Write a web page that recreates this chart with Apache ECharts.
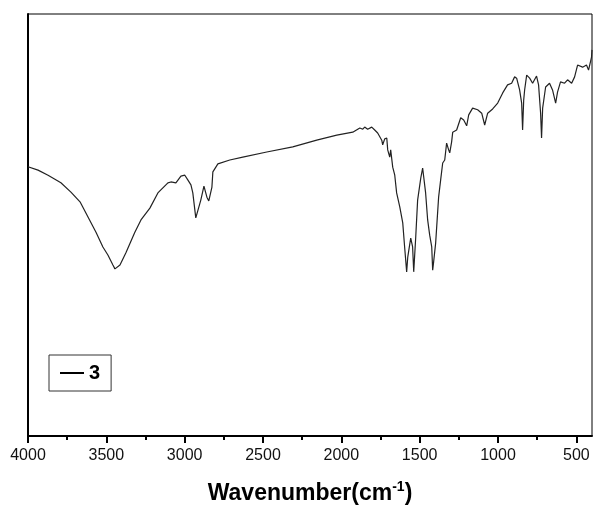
<!DOCTYPE html>
<html>
<head>
<meta charset="utf-8">
<script src="https://cdn.jsdelivr.net/npm/echarts@6/dist/echarts.min.js"></script>
<style>html,body{margin:0;padding:0;background:#fff;}#c{width:593px;height:507px;}</style>
</head>
<body>
<div id="c"></div>
<script>
const seriesName = '3';
const wavenumbers = [4000,3936,3872,3790,3726,3668,3617,3566,3522,3490,3458,3445,3413,3375,3318,3279,3222,3171,3107,3088,3056,3024,2999,2980,2960,2948,2929,2897,2877,2858,2846,2826,2820,2788,2712,2629,2476,2310,2157,2029,1927,1882,1863,1851,1832,1806,1787,1768,1742,1736,1723,1710,1704,1691,1685,1672,1659,1647,1627,1608,1596,1583,1576,1564,1557,1545,1538,1525,1513,1493,1481,1462,1449,1436,1423,1417,1411,1398,1379,1366,1353,1340,1328,1315,1308,1296,1289,1264,1238,1219,1200,1187,1162,1130,1104,1085,1066,1034,1002,970,939,913,894,881,862,849,843,836,830,817,798,779,754,741,728,722,715,696,671,652,632,620,601,575,556,530,511,492,460,435,422,403,400];
const transmittance = [63.8,63.0,61.8,60.0,57.8,55.5,51.9,48.3,44.8,42.9,40.5,39.6,40.5,43.4,48.3,51.2,54.0,57.6,60.0,60.2,60.0,61.6,61.8,60.7,59.5,57.6,51.7,55.9,59.2,56.6,55.7,59.0,62.6,64.5,65.4,66.1,67.3,68.5,70.1,71.3,72.0,73.0,72.7,73.2,72.7,73.2,72.5,71.8,70.1,69.0,70.4,70.6,67.8,66.1,67.8,63.7,61.8,57.6,54.3,50.5,44.8,38.9,42.4,45.3,46.9,44.8,38.9,47.2,55.9,61.1,63.5,57.6,51.2,47.6,44.8,39.3,41.2,45.7,56.6,60.7,64.7,65.4,69.4,67.8,67.1,69.7,72.0,72.5,75.4,74.9,73.5,76.1,77.7,77.3,76.5,73.7,76.5,77.5,78.9,81.3,83.2,83.6,85.1,84.8,82.0,78.9,72.5,79.6,82.0,85.5,84.8,83.6,85.3,83.2,76.5,70.6,77.7,82.7,83.6,82.0,78.9,81.5,83.9,83.6,84.4,83.6,85.1,87.9,87.4,87.9,86.7,89.8,91.5];
const majorTicks = [4000,3500,3000,2500,2000,1500,1000,500];
const minorTicks = [3750,3250,2750,2250,1750,1250,750];

const data = wavenumbers.map((w, i) => [w, transmittance[i]]);
const chart = echarts.init(document.getElementById('c'), null, {renderer: 'canvas'});
const FONT = '"Liberation Sans", Arial, sans-serif';
chart.setOption({
  backgroundColor: '#fff',
  animation: false,
  grid: {left: 28, right: 1, top: 14, bottom: 71, show: true, borderColor: '#000', borderWidth: 1, backgroundColor: 'transparent', containLabel: false, outerBoundsMode: 'none'},
  legend: {
    show: true, left: 49, top: 355, orient: 'vertical',
    data: [seriesName],
    icon: 'rect', itemWidth: 24, itemHeight: 2,
    itemStyle: {color: '#000'},
    borderColor: '#333', borderWidth: 1, padding: [8, 11, 8, 11],
    textStyle: {fontFamily: FONT, fontSize: 20, fontWeight: 'bold', color: '#000'}
  },
  xAxis: [{
    type: 'value', min: 400, max: 4000, inverse: true, position: 'bottom',
    axisLine: {show: true, onZero: false, lineStyle: {color: '#000', width: 2}},
    axisTick: {show: true, inside: false, customValues: majorTicks, length: 7, lineStyle: {color: '#000', width: 2}},
    axisLabel: {show: true, customValues: majorTicks, margin: 12, fontFamily: FONT, fontSize: 16, color: '#111', formatter: v => String(v)},
    splitLine: {show: false},
    name: '{a|Wavenumber(cm}{s|-1}{a|)}',
    nameLocation: 'middle', nameGap: 44,
    nameTextStyle: {
      rich: {
        a: {fontFamily: FONT, fontSize: 23, fontWeight: 'bold', color: '#000'},
        s: {fontFamily: FONT, fontSize: 14, fontWeight: 'bold', color: '#000', padding: [0, 0, 13, 0]}
      }
    }
  }, {
    type: 'value', min: 400, max: 4000, inverse: true, position: 'bottom', offset: 0,
    axisLine: {show: false, onZero: false},
    axisTick: {show: true, inside: false, customValues: minorTicks, length: 4, lineStyle: {color: '#000', width: 2}},
    axisLabel: {show: false},
    splitLine: {show: false}
  }],
  yAxis: {
    type: 'value', min: 0, max: 100,
    axisLine: {show: true, onZero: false, lineStyle: {color: '#000', width: 2}},
    axisTick: {show: false}, axisLabel: {show: false}, splitLine: {show: false}
  },
  series: [{
    name: seriesName, type: 'line', data: data, xAxisIndex: 0,
    showSymbol: false, symbol: 'none', smooth: false,
    lineStyle: {color: '#222', width: 1.2}, itemStyle: {color: '#000'}
  }]
});
</script>
</body>
</html>
